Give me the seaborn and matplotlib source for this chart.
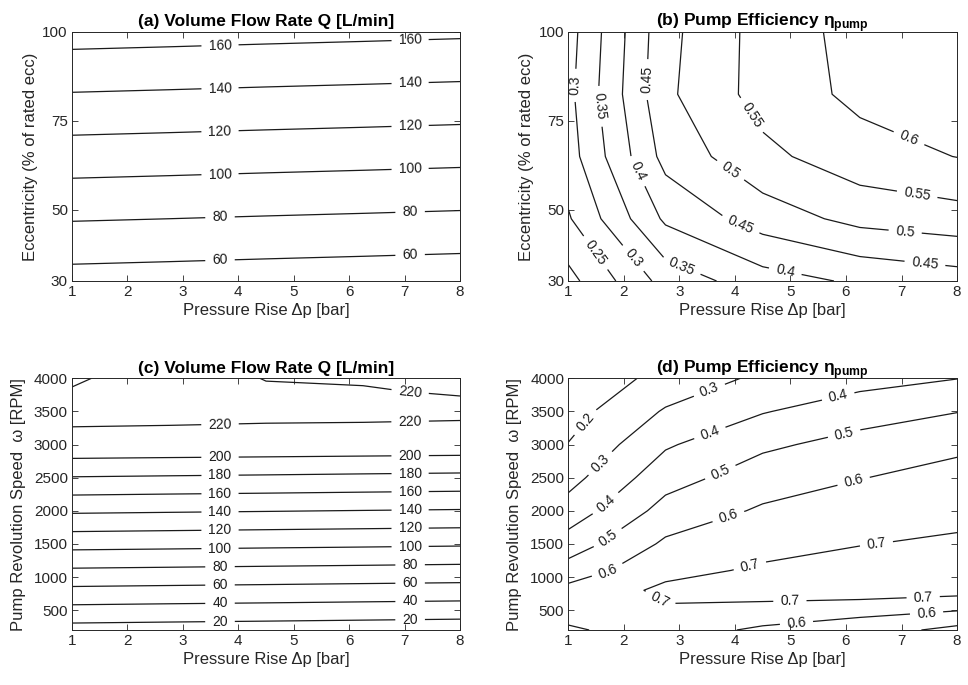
"""plot.py
Contour maps of pump flow rate and efficiency.
"""

# Imports
import matplotlib
matplotlib.use('Agg')
import matplotlib.pyplot as plt
import seaborn as sns
import numpy as np


# Data
PRESSURE = [1.0, 2.75, 4.5, 6.25, 8.0]                  # bar
ECC = [30.0, 47.5, 65.0, 82.5, 100.0]                   # % of rated ecc
RPM = [200, 800, 1400, 2000, 2600, 3000, 3300, 3600, 3800, 4000]
RPM_EFF = [200, 500, 800, 1100, 1500, 2000, 2500, 3000, 3500, 4000]

# (a) flow rate vs eccentricity, rows = ECC, cols = PRESSURE
Q_ECC = [
    [52.2, 51.0, 49.7, 48.5, 47.2],
    [81.2, 80.0, 78.7, 77.5, 76.2],
    [110.1, 108.9, 107.6, 106.4, 105.1],
    [139.1, 137.9, 136.6, 135.4, 134.1],
    [168.1, 166.9, 165.6, 164.4, 163.1],
]

# (b) efficiency vs eccentricity
EFF_ECC = [
    [0.184, 0.319, 0.378, 0.408, 0.4265],
    [0.245, 0.409, 0.474, 0.515, 0.529],
    [0.278, 0.467, 0.537, 0.580, 0.601],
    [0.287, 0.490, 0.570, 0.612, 0.625],
    [0.280, 0.485, 0.570, 0.618, 0.635],
]

# (c) flow rate vs speed, rows = RPM
Q_RPM = [
    [12.4, 11.3, 10.3, 9.2, 8.1],
    [55.9, 54.8, 53.8, 52.7, 51.7],
    [99.3, 98.3, 97.2, 96.2, 95.1],
    [142.8, 141.7, 140.7, 139.6, 138.6],
    [186.3, 185.2, 184.2, 183.1, 182.1],
    [215.0, 214.3, 213.7, 213.0, 212.3],
    [220.6, 220.2, 219.6, 219.4, 219.2],
    [223.5, 225.0, 225.0, 224.5, 223.0],
    [220.8, 225.5, 221.5, 221.2, 218.5],
    [218.5, 226.0, 219.6, 218.5, 215.0],
]

# (d) efficiency vs speed, rows = RPM_EFF
EFF_RPM = [
    [0.585, 0.655, 0.580, 0.550, 0.471],
    [0.645, 0.690, 0.675, 0.629, 0.605],
    [0.630, 0.720, 0.733, 0.762, 0.738],
    [0.544, 0.673, 0.713, 0.735, 0.730],
    [0.445, 0.617, 0.669, 0.697, 0.714],
    [0.342, 0.536, 0.613, 0.646, 0.673],
    [0.265, 0.460, 0.551, 0.597, 0.632],
    [0.203, 0.388, 0.482, 0.534, 0.580],
    [0.160, 0.310, 0.394, 0.457, 0.497],
    [0.120, 0.233, 0.320, 0.362, 0.398],
]

Q_LEVELS = np.arange(20, 241, 20)
EFF_ECC_LEVELS = np.round(np.arange(0.2, 0.66, 0.05), 2)
EFF_RPM_LEVELS = np.round(np.arange(0.1, 0.81, 0.1), 1)

# Label anchors (approximate spots where the labels sit)
LABEL_X = [3.67, 7.1]
B_LABELS = [(1.11, 85), (1.51, 79), (2.44, 86.6), (2.23, 60.7), (4.30, 76.6),
            (7.12, 69.6), (3.88, 60.2), (7.27, 53.2), (4.06, 44.3),
            (7.06, 42.9), (7.42, 34.7), (4.90, 32.2), (3.04, 34.1),
            (2.17, 36.4), (1.48, 37.8)]
D_LABELS = [(1.36, 3298), (1.63, 2671), (3.55, 3799), (1.69, 2094),
            (3.55, 3173), (5.86, 3724), (1.69, 1618), (3.73, 2596),
            (5.95, 3223), (1.69, 1142), (3.88, 1919), (6.13, 2470),
            (4.27, 1167), (6.55, 1493), (2.62, 615), (4.99, 640),
            (7.39, 690), (5.11, 290), (7.45, 465)]

GREY = '#262626'


def points_at_x(cs, xs):
    """Points on every contour segment at the given x positions."""
    pts = []
    for segs in cs.allsegs:
        for seg in segs:
            if len(seg) < 2:
                continue
            order = np.argsort(seg[:, 0])
            sx, sy = seg[order, 0], seg[order, 1]
            for x in xs:
                if sx[0] <= x <= sx[-1]:
                    pts.append((x, float(np.interp(x, sx, sy))))
    return pts


def style_axes(ax, title, ylabel, yticks, ylim, ylabelpad):
    ax.set_xlim(1, 8)
    ax.set_ylim(*ylim)
    ax.set_xticks(range(1, 9))
    ax.set_yticks(yticks)
    ax.tick_params(direction='in', bottom=True, left=True, top=True,
                   right=True, length=4, width=0.6, colors=GREY,
                   labelsize=11, pad=3)
    for s in ax.spines.values():
        s.set_visible(True)
        s.set_color(GREY)
        s.set_linewidth(0.7)
    ax.set_xlabel('Pressure Rise Δp [bar]', fontsize=12, color=GREY,
                  labelpad=3)
    ax.set_ylabel(ylabel, fontsize=12, color=GREY, labelpad=ylabelpad)
    ax.set_title(title, fontsize=12.5, fontweight='bold', color='black',
                 pad=4)


def contour_panel(ax, z, y, levels):
    cs = ax.contour(PRESSURE, y, np.array(z), levels=levels, colors='k',
                    linewidths=0.9)
    return cs


# Theme
sns.set_theme(style='white')
plt.rcParams['font.family'] = ['Liberation Sans', 'DejaVu Sans']
plt.rcParams['mathtext.fontset'] = 'custom'
plt.rcParams['mathtext.rm'] = 'Liberation Sans'
plt.rcParams['mathtext.bf'] = 'Liberation Sans:bold'

fig = plt.figure(figsize=(9.68, 6.85), dpi=100)
ax_a = fig.add_axes([0.0744, 0.5898, 0.4008, 0.3635])
ax_b = fig.add_axes([0.5871, 0.5898, 0.4016, 0.3635])
ax_c = fig.add_axes([0.0744, 0.0803, 0.4008, 0.3674])
ax_d = fig.add_axes([0.5871, 0.0803, 0.4016, 0.3674])

ecc_label = 'Eccentricity (% of rated ecc)'
rpm_label = 'Pump Revolution Speed  ω [RPM]'
eff_title = r'Pump Efficiency η$_{\mathbf{pump}}$'

style_axes(ax_a, '(a) Volume Flow Rate Q [L/min]', ecc_label,
           [30, 50, 75, 100], (30, 100), 3)
style_axes(ax_b, '(b) ' + eff_title, ecc_label,
           [30, 50, 75, 100], (30, 100), 3)
style_axes(ax_c, '(c) Volume Flow Rate Q [L/min]', rpm_label,
           range(500, 4001, 500), (200, 4000), 6)
style_axes(ax_d, '(d) ' + eff_title, rpm_label,
           range(500, 4001, 500), (200, 4000), 6)

clabel_kws = dict(inline=True, fontsize=10, fmt='%g', inline_spacing=7,
                  colors='k')

cs = contour_panel(ax_a, Q_ECC, ECC, Q_LEVELS)
ax_a.clabel(cs, manual=points_at_x(cs, LABEL_X), **clabel_kws)

cs = contour_panel(ax_b, EFF_ECC, ECC, EFF_ECC_LEVELS)
ax_b.clabel(cs, manual=B_LABELS, **clabel_kws)

cs = contour_panel(ax_c, Q_RPM, RPM, Q_LEVELS)
ax_c.clabel(cs, manual=points_at_x(cs, LABEL_X), **clabel_kws)

cs = contour_panel(ax_d, EFF_RPM, RPM_EFF, EFF_RPM_LEVELS)
ax_d.clabel(cs, manual=D_LABELS, **clabel_kws)

fig.savefig('out.png', dpi=100)
